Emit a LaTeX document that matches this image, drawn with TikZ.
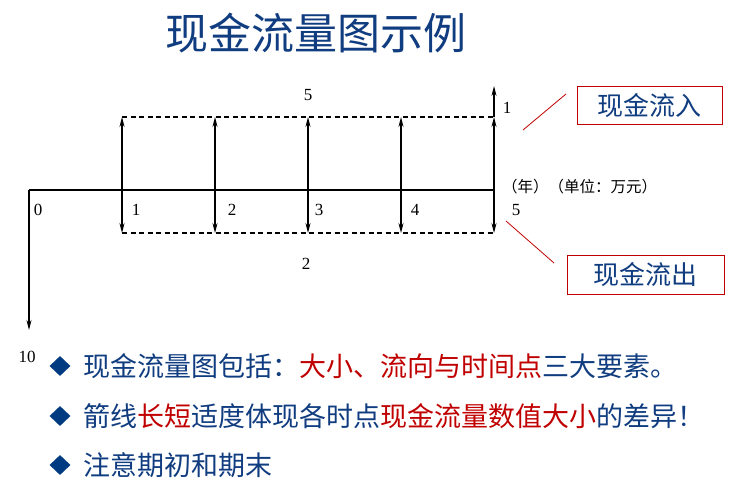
\documentclass[tikz,border=0pt]{standalone}
\usepackage{fontspec}
\setmainfont{Liberation Serif}
\newfontfamily\cjk{Noto Sans CJK SC}
\usetikzlibrary{arrows.meta,shapes.geometric}
\definecolor{titleblue}{RGB}{16,60,128}
\definecolor{bulletblue}{RGB}{0,58,128}
\definecolor{keyred}{RGB}{192,0,0}
\tikzset{
    flow/.style={-{Stealth[length=10pt,width=5pt]},line width=1.1pt},
    twoway/.style={{Stealth[length=10pt,width=5pt]}-{Stealth[length=10pt,width=5pt]},line width=1.1pt},
    gap/.style={dash pattern=on 5pt off 3.5pt,line width=1.2pt},
    num/.style={font=\fontsize{17pt}{17pt}\selectfont,inner sep=0},
    tag/.style={draw=keyred,line width=1pt,text=titleblue,font=\cjk\fontsize{26pt}{26pt}\selectfont,minimum height=38pt,inner sep=0},
    pointer/.style={draw=keyred,line width=0.8pt},
    bullet/.style={diamond,fill=bulletblue,inner sep=0,minimum width=21pt,minimum height=20pt},
    point/.style={right,inner sep=0,text=titleblue,font=\cjk\fontsize{27pt}{27pt}\selectfont}
}
\begin{document}
\begin{tikzpicture}[x=1pt,y=-1pt]
    \useasboundingbox (0,0) rectangle (741,486);
    \pgfmathsetmacro{\axisy}{190}
    \pgfmathsetmacro{\inflowy}{117}
    \pgfmathsetmacro{\outflowy}{233}
    \node[text=titleblue,font=\cjk\fontsize{43pt}{43pt}\selectfont,inner sep=0] (title) at (316,33) {现金流量图示例};
    % time axis and the initial outlay
    \coordinate (t0) at (29,\axisy);
    \coordinate (z0) at (29,330);
    \foreach \i/\x in {1/122,2/215,3/308,4/401,5/494} {
        \coordinate (t\i) at (\x,\axisy);
        \coordinate (u\i) at (\x,\inflowy);
        \coordinate (d\i) at (\x,\outflowy);
    }
    \coordinate (w5) at (494,86);
    \draw[line width=2pt] (t0) -- (t5);
    \draw[flow] (t0) -- (z0);
    \draw[gap] (u1) -- (u5);
    \draw[gap] (d1) -- (d5);
    \foreach \i in {1,...,5} {
        \draw[twoway] (d\i) -- (u\i);
    }
    \draw[flow] (u5) -- (w5);
    % labels
    \node[num] (n0) at (38,210) {0};
    \node[num] (n1) at (136,210) {1};
    \node[num] (n2) at (232,210) {2};
    \node[num] (n3) at (319,210) {3};
    \node[num] (n4) at (415,210) {4};
    \node[num] (n5) at (516,210) {5};
    \node[num] (ten) at (27,357) {10};
    \node[num] (inval) at (308,95) {5};
    \node[num] (outval) at (306,264) {2};
    \node[num] (lastval) at (507,108) {1};
    \node[right,inner sep=0,font=\cjk\fontsize{15.5pt}{15.5pt}\selectfont] (unit) at (502,187) {（年）（单位：万元）};
    % callouts
    \node[tag,minimum width=145pt] (inbox) at (649.5,106) {现金流入};
    \node[tag,minimum width=157pt] (outbox) at (645.5,275) {现金流出};
    \coordinate (pa) at (523,130);
    \coordinate (pb) at (566,94);
    \coordinate (qa) at (506,221);
    \coordinate (qb) at (554,263);
    \draw[pointer] (pa) -- (pb);
    \draw[pointer] (qa) -- (qb);
    % remarks
    \node[bullet] (b1) at (60,366) {};
    \node[bullet] (b2) at (60,416) {};
    \node[bullet] (b3) at (60,465) {};
    \node[point] (r1) at (83,366) {现金流量图包括：\textcolor{keyred}{大小、流向与时间点}三大要素。};
    \node[point] (r2) at (83,416) {箭线\textcolor{keyred}{长短}适度体现各时点\textcolor{keyred}{现金流量数值大小}的差异！};
    \node[point] (r3) at (83,465) {注意期初和期末};
\end{tikzpicture}
\end{document}
